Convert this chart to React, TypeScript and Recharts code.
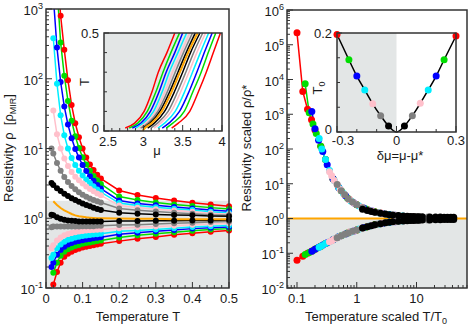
import React from "react";
import { LineChart, Line, XAxis, YAxis, ReferenceArea, ComposedChart, Area } from "recharts";

const FONT = "'Liberation Sans', Arial, Helvetica, sans-serif";
const INK = "#1a1a1a";
const FRAME = "#333333";
const SHADE = "#e3e6e6";
const RED = "#ff0000";
const GREEN = "#00dd00";
const BLUE = "#0000ff";
const CYAN = "#00eeff";
const PINK = "#ffc0cb";
const GRAY = "#808080";
const BLACK = "#000000";
const ORANGE = "#ffa500";

// ---------- left panel: resistivity vs temperature ----------
const temps = [0.015, 0.02, 0.03, 0.04, 0.05, 0.06, 0.07, 0.08, 0.09, 0.1, 0.11, 0.12, 0.13, 0.14, 0.15, 0.2, 0.25, 0.3, 0.35, 0.4, 0.45, 0.5];

// insulating side (rho grows as T -> 0)
const rhoRedIns = [null, null, 4000, 800, 260, 95, 42, 23, 14.5, 10, 7.4, 5.9, 4.9, 4.2, 3.7, 2.5, 2.15, 1.95, 1.79, 1.67, 1.57, 1.49];
const rhoGreenIns = [null, null, 2000, 330, 110, 48, 25, 15, 10.2, 7.5, 5.9, 4.8, 4.05, 3.5, 3.1, 2.05, 1.82, 1.68, 1.58, 1.5, 1.42, 1.36];
const rhoBlueIns = [null, 1500, 280, 90, 40, 22, 14, 9.8, 7.4, 5.8, 4.75, 4.0, 3.45, 3.0, 2.66, 1.8, 1.63, 1.53, 1.45, 1.38, 1.31, 1.26];
const rhoCyanIns = [null, 380, 85, 30, 15.5, 10, 7.3, 5.8, 4.8, 4.1, 3.6, 3.2, 2.85, 2.58, 2.37, 1.65, 1.52, 1.44, 1.37, 1.31, 1.24, 1.19];
const rhoPinkIns = [null, 35, 16, 10, 7.2, 5.6, 4.6, 3.95, 3.5, 3.15, 2.85, 2.62, 2.43, 2.27, 2.13, 1.52, 1.42, 1.35, 1.29, 1.24, 1.18, 1.14];
const rhoGrayIns = [10, 8.5, 6.2, 4.8, 3.9, 3.3, 2.9, 2.6, 2.36, 2.17, 2.03, 1.92, 1.83, 1.75, 1.68, 1.38, 1.3, 1.25, 1.2, 1.16, 1.12, 1.1];
const rhoBlackIns = [3.2, 3.0, 2.7, 2.45, 2.25, 2.08, 1.94, 1.82, 1.72, 1.63, 1.55, 1.48, 1.42, 1.36, 1.31, 1.2, 1.16, 1.13, 1.11, 1.1, 1.08, 1.07];
// critical curve
const rhoCritical = [null, 1.75, 1.55, 1.4, 1.3, 1.22, 1.15, 1.1, 1.07, 1.05, 1.03, 1.02, 1.01, 1.0, 1.0, 0.99, 0.98, 0.98, 0.97, 0.97, 0.97, 0.97];
// metallic side
const rhoBlackMet = [1.12, 1.1, 1.03, 0.98, 0.95, 0.93, 0.92, 0.91, 0.9, 0.9, 0.9, 0.9, 0.9, 0.9, 0.9, 0.91, 0.91, 0.92, 0.92, 0.93, 0.93, 0.94];
const rhoGrayMet = [0.74, 0.76, 0.76, 0.76, 0.76, 0.76, 0.76, 0.76, 0.76, 0.77, 0.77, 0.77, 0.77, 0.78, 0.78, 0.8, 0.81, 0.83, 0.85, 0.86, 0.88, 0.9];
const rhoPinkMet = [0.37, 0.41, 0.48, 0.53, 0.57, 0.595, 0.615, 0.63, 0.645, 0.655, 0.665, 0.675, 0.68, 0.685, 0.69, 0.72, 0.74, 0.76, 0.78, 0.81, 0.83, 0.85];
const rhoCyanMet = [0.27, 0.3, 0.37, 0.42, 0.46, 0.49, 0.51, 0.53, 0.545, 0.555, 0.565, 0.575, 0.585, 0.59, 0.6, 0.65, 0.67, 0.69, 0.72, 0.75, 0.77, 0.79];
const rhoBlueMet = [0.2, 0.23, 0.3, 0.35, 0.39, 0.42, 0.44, 0.46, 0.47, 0.485, 0.495, 0.505, 0.515, 0.525, 0.535, 0.59, 0.62, 0.65, 0.68, 0.71, 0.73, 0.75];
const rhoGreenMet = [null, 0.165, 0.23, 0.29, 0.33, 0.36, 0.38, 0.4, 0.415, 0.43, 0.44, 0.45, 0.46, 0.47, 0.48, 0.53, 0.57, 0.6, 0.63, 0.66, 0.69, 0.71];
const rhoRedMet = [null, 0.112, 0.17, 0.23, 0.28, 0.31, 0.33, 0.35, 0.365, 0.38, 0.39, 0.4, 0.41, 0.42, 0.43, 0.47, 0.51, 0.54, 0.58, 0.61, 0.64, 0.67];

const metallicTop = 1.78;
const tTicks = [0, 0.02, 0.04, 0.06, 0.08, 0.1, 0.12, 0.14, 0.16, 0.18, 0.2, 0.22, 0.24, 0.26, 0.28, 0.3, 0.32, 0.34, 0.36, 0.38, 0.4, 0.42, 0.44, 0.46, 0.48, 0.5];
const tLabels = [0, 0.1, 0.2, 0.3, 0.4, 0.5];

// ---------- left inset: T vs mu ----------
const insetT = [0.015, 0.04, 0.1, 0.2, 0.3, 0.4, 0.5];
const muRedIns = [2.77, 2.89, 3.01, 3.11, 3.19, 3.3, 3.4];
const muGreenIns = [2.82, 2.93, 3.05, 3.16, 3.25, 3.35, 3.46];
const muBlueIns = [2.86, 2.97, 3.09, 3.2, 3.29, 3.4, 3.5];
const muCyanIns = [2.9, 3.0, 3.13, 3.24, 3.33, 3.44, 3.55];
const muPinkIns = [2.935, 3.03, 3.16, 3.275, 3.37, 3.48, 3.59];
const muGrayIns = [2.965, 3.06, 3.185, 3.305, 3.405, 3.51, 3.625];
const muBlackIns = [2.995, 3.085, 3.21, 3.335, 3.44, 3.545, 3.66];
const muBlackMet = [3.055, 3.14, 3.27, 3.395, 3.5, 3.6, 3.72];
const muGrayMet = [3.095, 3.18, 3.315, 3.435, 3.54, 3.64, 3.755];
const muPinkMet = [3.135, 3.22, 3.355, 3.475, 3.58, 3.68, 3.79];
const muCyanMet = [3.185, 3.27, 3.405, 3.525, 3.625, 3.725, 3.83];
const muBlueMet = [3.24, 3.325, 3.46, 3.58, 3.68, 3.775, 3.875];
const muGreenMet = [3.29, 3.375, 3.52, 3.63, 3.735, 3.825, 3.92];
const muRedMet = [3.36, 3.445, 3.59, 3.7, 3.8, 3.89, 3.98];
const critT = [0, 0.015, 0.04, 0.1, 0.2, 0.3, 0.4, 0.5];
const critMu = [2.99, 3.02, 3.105, 3.235, 3.36, 3.465, 3.57, 3.69];
const muTicks = [2.5, 2.6, 2.7, 2.8, 2.9, 3, 3.1, 3.2, 3.3, 3.4, 3.5, 3.6, 3.7, 3.8, 3.9, 4];
const muLabels = [2.5, 3, 3.5, 4];
const insetTTicks = [0, 0.1, 0.2, 0.3, 0.4, 0.5];
const insetTLabels = [0, 0.5];

// ---------- right panel: scaled resistivity vs T/T0 ----------
const sxRed = [0.1, 0.125, 0.15, 0.175, 0.2, 0.25, 0.3, 0.4, 0.5, 0.75, 1, 1.5, 2, 2.5];
const suRed = [220000, 4500, 1400, 700, 350, 120, 50, 14, 7.8, 3.5, 2.5, 1.82, 1.56, 1.43];
const slRed = [0.063, 0.082, 0.1, 0.115, 0.13, 0.16, 0.19, 0.245, 0.3, 0.4, 0.47, 0.58, 0.66, 0.71];
const sxGreen = [0.137, 0.16, 0.185, 0.21, 0.25, 0.3, 0.4, 0.55, 0.7, 1, 1.4, 2, 2.7, 3.4];
const suGreen = [7500, 1100, 520, 280, 120, 50, 14, 6.3, 3.9, 2.5, 1.9, 1.56, 1.4, 1.3];
const slGreen = [0.092, 0.105, 0.12, 0.137, 0.16, 0.19, 0.245, 0.32, 0.38, 0.47, 0.56, 0.66, 0.72, 0.77];
const sxBlue = [0.177, 0.2, 0.23, 0.27, 0.32, 0.4, 0.5, 0.65, 0.9, 1.3, 1.8, 2.7, 3.5, 4.4];
const suBlue = [1200, 380, 180, 85, 35, 14, 7.8, 4.5, 2.8, 2.0, 1.64, 1.4, 1.29, 1.24];
const slBlue = [0.115, 0.13, 0.148, 0.172, 0.2, 0.245, 0.3, 0.36, 0.44, 0.55, 0.63, 0.72, 0.78, 0.81];
const sxCyan = [0.235, 0.26, 0.3, 0.35, 0.42, 0.5, 0.6, 0.8, 1.1, 1.6, 2.4, 3.5, 4.7, 5.9];
const suCyan = [200, 100, 50, 24, 12.5, 7.8, 5.2, 3.2, 2.3, 1.74, 1.45, 1.29, 1.22, 1.18];
const slCyan = [0.15, 0.165, 0.19, 0.215, 0.255, 0.3, 0.34, 0.41, 0.5, 0.6, 0.7, 0.78, 0.82, 0.85];
const sxPink = [0.35, 0.38, 0.42, 0.47, 0.53, 0.62, 0.75, 0.9, 1.2, 1.8, 2.6, 4.4, 6.1, 8.8];
const suPink = [22, 17, 12.5, 9.5, 6.8, 4.9, 3.5, 2.8, 2.15, 1.64, 1.41, 1.24, 1.17, 1.14];
const slPink = [0.215, 0.23, 0.255, 0.28, 0.31, 0.35, 0.4, 0.44, 0.52, 0.63, 0.72, 0.81, 0.85, 0.88];
const sxGray = [0.47, 0.55, 0.63, 0.72, 0.85, 1, 1.25, 1.6, 2.2, 3.1, 4.7, 7.8, 10.9, 15.6];
const suGray = [9.5, 6.3, 4.8, 3.7, 3.0, 2.5, 2.05, 1.74, 1.5, 1.33, 1.22, 1.15, 1.13, 1.11];
const slGray = [0.28, 0.32, 0.355, 0.385, 0.43, 0.47, 0.53, 0.6, 0.68, 0.76, 0.82, 0.87, 0.89, 0.91];
const sxBlack = [1.25, 1.5, 1.75, 2, 2.5, 3, 3.5, 4, 5, 6, 7, 8, 9, 10, 11, 12.5, 16.7, 20.8, 25, 29, 33, 37.5, 42];
const suBlack = [1.85, 1.7, 1.6, 1.52, 1.42, 1.34, 1.29, 1.26, 1.21, 1.18, 1.16, 1.15, 1.14, 1.13, 1.13, 1.12, 1.11, 1.1, 1.1, 1.09, 1.09, 1.08, 1.08];
const slBlack = [0.53, 0.58, 0.62, 0.66, 0.71, 0.75, 0.78, 0.8, 0.83, 0.85, 0.86, 0.87, 0.88, 0.89, 0.89, 0.9, 0.91, 0.92, 0.92, 0.93, 0.93, 0.93, 0.93];
const critLevelX = [0.068, 70];
const critLevelY = [1, 1];
const scaledXLabels = [0.1, 1, 10];

// ---------- right inset: T0 vs delta mu ----------
const dmu = [-0.3, -0.24, -0.2, -0.16, -0.12, -0.08, -0.04, 0, 0.04, 0.08, 0.12, 0.16, 0.2, 0.24, 0.3];
const t0 = [0.197, 0.146, 0.113, 0.085, 0.057, 0.033, 0.012, 0, 0.012, 0.033, 0.058, 0.085, 0.113, 0.146, 0.194];
const t0Colors = [RED, GREEN, BLUE, CYAN, PINK, GRAY, BLACK, null, BLACK, GRAY, PINK, CYAN, BLUE, GREEN, RED];
const dmuTicks = [-0.3, -0.2, -0.1, 0, 0.1, 0.2, 0.3];
const dmuLabels = [-0.3, 0, 0.3];
const t0Ticks = [0, 0.05, 0.1, 0.15, 0.2];
const t0Labels = [0, 0.2];

// ---------- build tables ----------
const leftSeries = [
  { key: "redIns", color: RED, values: rhoRedIns },
  { key: "greenIns", color: GREEN, values: rhoGreenIns },
  { key: "blueIns", color: BLUE, values: rhoBlueIns },
  { key: "cyanIns", color: CYAN, values: rhoCyanIns },
  { key: "pinkIns", color: PINK, values: rhoPinkIns },
  { key: "grayIns", color: GRAY, values: rhoGrayIns },
  { key: "blackIns", color: BLACK, values: rhoBlackIns },
  { key: "redMet", color: RED, values: rhoRedMet },
  { key: "greenMet", color: GREEN, values: rhoGreenMet },
  { key: "blueMet", color: BLUE, values: rhoBlueMet },
  { key: "cyanMet", color: CYAN, values: rhoCyanMet },
  { key: "pinkMet", color: PINK, values: rhoPinkMet },
  { key: "grayMet", color: GRAY, values: rhoGrayMet },
  { key: "blackMet", color: BLACK, values: rhoBlackMet },
];

const leftRows = temps.map((t, i) => {
  const row: Record<string, number | null> = { t, crit: rhoCritical[i] };
  leftSeries.forEach((s) => (row[s.key] = s.values[i]));
  return row;
});

const insetSeries = [
  { color: RED, mu: muRedIns },
  { color: GREEN, mu: muGreenIns },
  { color: BLUE, mu: muBlueIns },
  { color: CYAN, mu: muCyanIns },
  { color: PINK, mu: muPinkIns },
  { color: GRAY, mu: muGrayIns },
  { color: BLACK, mu: muBlackIns },
  { color: BLACK, mu: muBlackMet },
  { color: GRAY, mu: muGrayMet },
  { color: PINK, mu: muPinkMet },
  { color: CYAN, mu: muCyanMet },
  { color: BLUE, mu: muBlueMet },
  { color: GREEN, mu: muGreenMet },
  { color: RED, mu: muRedMet },
];
const critRows = critMu.map((m, i) => ({ mu: m, T: critT[i] }));
const shadeRows = [{ mu: 2.5, band: [0, 0.5] }, ...critMu.map((m, i) => ({ mu: m, band: [critT[i], 0.5] }))];

const scaledSeries = [
  { color: RED, x: sxRed, up: suRed, lo: slRed },
  { color: GREEN, x: sxGreen, up: suGreen, lo: slGreen },
  { color: BLUE, x: sxBlue, up: suBlue, lo: slBlue },
  { color: CYAN, x: sxCyan, up: suCyan, lo: slCyan },
  { color: PINK, x: sxPink, up: suPink, lo: slPink },
  { color: GRAY, x: sxGray, up: suGray, lo: slGray },
  { color: BLACK, x: sxBlack, up: suBlack, lo: slBlack },
];
const pts = (xs: number[], ys: number[]) => xs.map((x, i) => ({ x, y: ys[i] }));
const critLevel = pts(critLevelX, critLevelY);
const t0Rows = dmu.map((d, i) => ({ dmu: d, t0: t0[i] }));

// ---------- ticks ----------
function logTicks(lo: number, hi: number) {
  const out: number[] = [];
  for (let e = Math.floor(Math.log10(lo)); e <= Math.ceil(Math.log10(hi)); e++) {
    for (let m = 1; m <= 9; m++) {
      const v = Number((m * Math.pow(10, e)).toPrecision(2));
      if (v >= lo * 0.999 && v <= hi * 1.001) out.push(v);
    }
  }
  return out;
}
const isPow10 = (v: number) => Math.abs(Math.log10(v) - Math.round(Math.log10(v))) < 1e-9;
const near = (list: number[], v: number) => list.some((l) => Math.abs(l - v) < 1e-9);
const fmt = (v: number) => String(Math.round(v * 100) / 100);

const textStyle = { fontSize: 13, fontFamily: FONT, fill: INK };

const LogYTick = (props: any) => {
  const { x, y, payload } = props;
  const v = payload.value as number;
  const major = isPow10(v);
  return (
    <g>
      <line x1={x} x2={x + (major ? 6 : 3)} y1={y} y2={y} stroke={FRAME} strokeWidth={1} />
      {major && (
        <text x={x - 3} y={y + 6} textAnchor="end" {...textStyle}>
          10<tspan dy={-6} fontSize={9}>{Math.round(Math.log10(v))}</tspan>
        </text>
      )}
    </g>
  );
};

// labels sit `gap` px below the axis; the first label can be nudged right
const bottomTick = (labels: number[], isMajor: (v: number) => boolean, gap = 15, firstShift = 0) => (props: any) => {
  const { x, y, payload } = props;
  const v = payload.value as number;
  const major = isMajor(v);
  const shift = Math.abs(v - labels[0]) < 1e-9 ? firstShift : 0;
  return (
    <g>
      <line x1={x} x2={x} y1={y} y2={y - (major ? 6 : 3)} stroke={FRAME} strokeWidth={1} />
      {near(labels, v) && (
        <text x={x + shift} y={y + gap} textAnchor="middle" {...textStyle}>
          {fmt(v)}
        </text>
      )}
    </g>
  );
};

const leftTick = (labels: number[], zeroLift = 0) => (props: any) => {
  const { x, y, payload } = props;
  const v = payload.value as number;
  const lab = near(labels, v);
  return (
    <g>
      <line x1={x} x2={x + (lab ? 5 : 3)} y1={y} y2={y} stroke={FRAME} strokeWidth={1} />
      {lab && (
        <text x={x - 5} y={y + 5 - (v === 0 ? zeroLift : 0)} textAnchor="end" {...textStyle}>
          {fmt(v)}
        </text>
      )}
    </g>
  );
};

const axisCommon = { tickLine: false, axisLine: false, tickSize: 0, tickMargin: 0, interval: 0 as const };

function LeftMain() {
  return (
    <LineChart width={243} height={326} data={leftRows} margin={{ top: 9, right: 14, bottom: 8, left: 0 }}>
      <ReferenceArea x1={0} x2={0.5} y1={0.1} y2={metallicTop} fill={SHADE} fillOpacity={1} stroke="none" />
      <XAxis dataKey="t" type="number" domain={[0, 0.5]} ticks={tTicks} height={30}
        tick={bottomTick(tLabels, (v) => near(tLabels, v))} {...axisCommon} />
      <YAxis type="number" scale="log" domain={[0.1, 1000]} allowDataOverflow ticks={logTicks(0.1, 1000)}
        width={46} tick={LogYTick} {...axisCommon} />
      {leftSeries.map((s) => (
        <Line key={s.key} dataKey={s.key} stroke={s.color} strokeWidth={1.5}
          dot={{ r: 3, fill: s.color, stroke: "none", strokeWidth: 0 }} isAnimationActive={false} />
      ))}
      <Line dataKey="crit" stroke={ORANGE} strokeWidth={2} dot={false} isAnimationActive={false} />
    </LineChart>
  );
}

function LeftInset() {
  return (
    <ComposedChart width={154} height={136} margin={{ top: 8, right: 12, bottom: 4, left: 0 }}>
      <ReferenceArea x1={2.5} x2={4} y1={0} y2={0.5} fill="#ffffff" fillOpacity={1} stroke="none" />
      <XAxis dataKey="mu" type="number" domain={[2.5, 4]} ticks={muTicks} height={26}
        tick={bottomTick(muLabels, (v) => near(muLabels, v), 15, 4)} {...axisCommon} />
      <YAxis type="number" domain={[0, 0.5]} ticks={insetTTicks} width={24} tick={leftTick(insetTLabels, 3)} {...axisCommon} />
      <Area data={shadeRows} dataKey="band" type="monotone" fill={SHADE} fillOpacity={1} stroke="none" isAnimationActive={false} />
      {insetSeries.map((s, k) => (
        <Line key={k} data={s.mu.map((m, i) => ({ mu: m, T: insetT[i] }))} dataKey="T" type="monotone"
          stroke={s.color} strokeWidth={1.5} dot={false} isAnimationActive={false} />
      ))}
      <Line data={critRows} dataKey="T" type="monotone" stroke={ORANGE} strokeWidth={2} dot={false} isAnimationActive={false} />
    </ComposedChart>
  );
}

function RightMain() {
  return (
    <LineChart width={236} height={326} margin={{ top: 10, right: 4, bottom: 8, left: 0 }}>
      <ReferenceArea x1={0.068} x2={70} y1={0.01} y2={1} fill={SHADE} fillOpacity={1} stroke="none" />
      <XAxis dataKey="x" type="number" scale="log" domain={[0.068, 70]} allowDataOverflow ticks={logTicks(0.068, 70)}
        height={30} tick={bottomTick(scaledXLabels, isPow10)} {...axisCommon} />
      <YAxis type="number" scale="log" domain={[0.01, 1e6]} allowDataOverflow ticks={logTicks(0.01, 1e6)}
        width={52} tick={LogYTick} {...axisCommon} />
      {scaledSeries.flatMap((s, k) => [
        <Line key={`u${k}`} data={pts(s.x, s.up)} dataKey="y" stroke={s.color} strokeWidth={1.5}
          dot={{ r: 3.5, fill: s.color, stroke: "none", strokeWidth: 0 }} isAnimationActive={false} />,
        <Line key={`l${k}`} data={pts(s.x, s.lo)} dataKey="y" stroke={s.color} strokeWidth={1.5}
          dot={{ r: 3.5, fill: s.color, stroke: "none", strokeWidth: 0 }} isAnimationActive={false} />,
      ])}
      <Line data={critLevel} dataKey="y" stroke={ORANGE} strokeWidth={2} dot={false} isAnimationActive={false} />
    </LineChart>
  );
}

function RightInset() {
  return (
    <LineChart width={160} height={137} margin={{ top: 8, right: 14, bottom: 4, left: 0 }}>
      <ReferenceArea x1={-0.3} x2={0.3} y1={0} y2={0.2} fill="#ffffff" fillOpacity={1} stroke="none" />
      <ReferenceArea x1={-0.3} x2={0} y1={0} y2={0.2} fill={SHADE} fillOpacity={1} stroke="none" />
      <XAxis dataKey="dmu" type="number" domain={[-0.3, 0.3]} ticks={dmuTicks} height={26}
        tick={bottomTick(dmuLabels, (v) => near(dmuLabels, v), 13, 6)} {...axisCommon} />
      <YAxis type="number" domain={[0, 0.2]} ticks={t0Ticks} width={27} tick={leftTick(t0Labels, 3)} {...axisCommon} />
      <Line data={t0Rows} dataKey="t0" type="monotone" stroke={BLACK} strokeWidth={1.5} isAnimationActive={false}
        dot={(p: any) => {
          const c = t0Colors[p.index];
          return c ? <circle key={`d${p.index}`} cx={p.cx} cy={p.cy} r={3.5} fill={c} /> : <g key={`d${p.index}`} />;
        }} />
    </LineChart>
  );
}

export default function App() {
  const frame = { fill: "none", stroke: FRAME, strokeWidth: 1.5 };
  return (
    <div style={{ position: "absolute", left: 0, top: 0, width: 471, height: 326, background: "#fff", overflow: "hidden" }}>
      <div style={{ position: "absolute", left: 235, top: 0 }}><RightMain /></div>
      <div style={{ position: "absolute", left: 0, top: 0 }}><LeftMain /></div>
      <div style={{ position: "absolute", left: 80, top: 25 }}><LeftInset /></div>
      <div style={{ position: "absolute", left: 310, top: 25 }}><RightInset /></div>
      <svg width={471} height={326} style={{ position: "absolute", left: 0, top: 0, pointerEvents: "none" }}>
        <rect x={46} y={9} width={183} height={279} {...frame} />
        <rect x={287} y={10} width={180} height={278} {...frame} />
        <rect x={104} y={33} width={118} height={98} {...frame} />
        <rect x={337} y={33} width={119} height={99} {...frame} />
        <g {...textStyle}>
          <text transform="translate(13,148) rotate(-90)" textAnchor="middle">
            Resistivity ρ{"\u00a0 "}[ρ<tspan dy={3} fontSize={9}>MIR</tspan><tspan dy={-3}>]</tspan>
          </text>
          <text x={138} y={321} textAnchor="middle">Temperature T</text>
          <text transform="translate(251,148) rotate(-90)" textAnchor="middle">Resistivity scaled ρ/ρ*</text>
          <text x={376} y={321} textAnchor="middle">
            Temperature scaled T/T<tspan dy={3} fontSize={9}>0</tspan>
          </text>
          <text transform="translate(89,82) rotate(-90)" textAnchor="middle">T</text>
          <text x={157} y={155} textAnchor="middle">μ</text>
          <text transform="translate(322,88) rotate(-90)" textAnchor="middle">
            T<tspan dy={3} fontSize={9}>0</tspan>
          </text>
          <text x={400} y={160} textAnchor="middle">δμ=μ-μ*</text>
        </g>
      </svg>
    </div>
  );
}
